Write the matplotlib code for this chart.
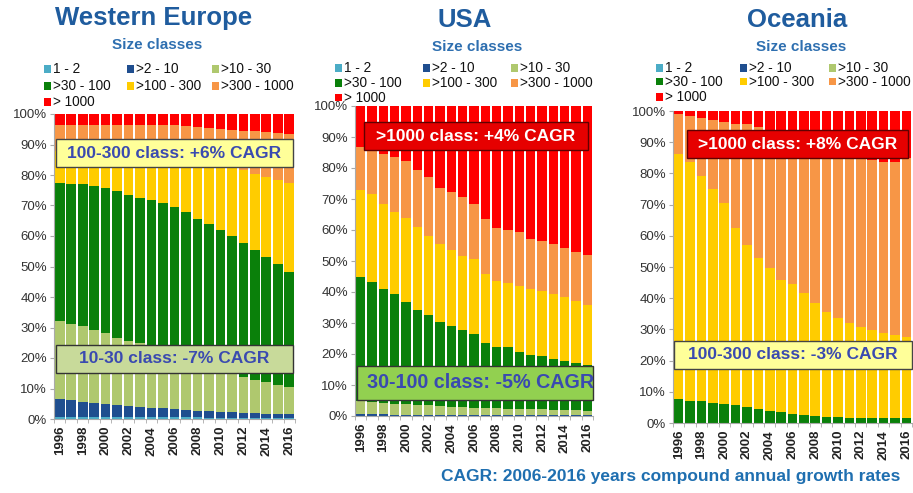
import matplotlib
matplotlib.use("Agg")
import matplotlib.pyplot as plt
from matplotlib.patches import Rectangle
import numpy as np

plt.rcParams['font.family'] = ['Liberation Sans', 'DejaVu Sans']

years = list(range(1996, 2017))
classes = ["1 - 2", ">2 - 10", ">10 - 30", ">30 - 100", ">100 - 300", ">300 - 1000", "> 1000"]
colors = ["#4BACC6", "#1F4E8F", "#AFC86E", "#0A800A", "#FFCC00", "#F79646", "#FF0000"]

# ---- Western Europe shares (%) ----
we_1_2 = [0.8,0.8,0.7,0.7,0.7,0.6,0.6,0.6,0.6,0.5,0.5,0.5,0.5,0.4,0.4,0.4,0.4,0.4,0.3,0.3,0.3]
we_2_10 = [5.7,5.3,5.0,4.5,4.1,3.9,3.5,3.3,3.1,3.0,2.7,2.4,2.2,2.2,2.0,1.9,1.7,1.6,1.4,1.3,1.2]
we_10_30 = [25.5,25.2,24.8,24.0,23.4,22.2,21.6,20.9,20.3,19.7,19.0,18.3,17.3,16.2,14.8,13.2,11.8,10.8,10.4,9.5,8.9]
we_30_100 = [45.4,45.9,46.4,47.2,47.6,48.1,47.8,47.8,47.9,47.7,47.4,46.7,45.7,45.1,44.7,44.4,43.8,42.5,41.0,39.6,37.8]
we_100_300 = [10.6,10.6,10.7,10.9,11.2,11.9,12.9,13.4,13.7,14.3,15.2,16.5,18.3,19.7,21.3,22.8,24.1,25.0,26.1,27.6,29.2]
we_300_1000 = [8.5,8.7,8.9,9.2,9.5,9.8,10.0,10.4,10.8,11.1,11.5,11.7,11.6,11.8,11.9,12.1,12.7,14.0,14.9,15.5,16.2]
we_1000 = [3.5,3.5,3.5,3.5,3.5,3.5,3.6,3.6,3.6,3.7,3.7,3.9,4.4,4.6,4.9,5.2,5.5,5.7,5.9,6.2,6.4]

# ---- USA shares (%) ----
us_1_2 = [0.1]*21
us_2_10 = [0.4,0.4,0.4,0.3,0.3,0.3,0.3,0.3,0.3,0.3,0.2,0.2,0.2,0.2,0.2,0.2,0.2,0.2,0.2,0.2,0.2]
us_10_30 = [4.5,4.1,3.8,3.6,3.4,3.2,3.0,2.8,2.6,2.5,2.4,2.3,2.2,2.1,2.0,1.9,1.8,1.7,1.6,1.5,1.4]
us_30_100 = [39.8,38.7,36.8,35.2,32.9,30.7,29.2,27.2,25.9,24.9,23.7,21.1,19.8,19.7,18.4,17.4,17.2,16.5,15.8,15.2,14.6]
us_100_300 = [28.2,28.2,27.2,26.6,27.2,26.6,25.6,25.0,24.6,23.8,24.1,22.0,21.2,20.9,21.3,21.4,20.9,20.8,20.6,20.2,19.6]
us_300_1000 = [13.7,14.2,16.3,17.9,18.4,18.3,18.8,18.3,18.8,19.1,17.9,17.9,17.2,17.0,17.2,16.1,16.3,16.1,15.8,15.8,16.1]
us_1000 = [13.3,14.3,15.4,16.3,17.7,20.8,23.0,26.3,27.7,29.3,31.6,36.4,39.3,40.0,40.8,42.9,43.5,44.6,45.9,47.0,48.0]

# ---- Oceania shares (%) ----
oc_1_2 = [0.0]*21
oc_2_10 = [0.0]*21
oc_10_30 = [0.0]*21
oc_30_100 = [7.6,7.2,6.9,6.5,6.1,5.7,5.0,4.4,4.0,3.4,2.8,2.7,2.1,2.0,1.9,1.7,1.7,1.7,1.7,1.7,1.7]
oc_100_300 = [78.6,76.6,72.3,68.5,64.5,56.9,52.2,48.5,45.7,42.5,41.7,38.9,36.3,33.7,31.6,30.2,29.2,28.1,27.2,26.5,26.0]
oc_300_1000 = [12.7,14.7,18.6,22.2,25.9,33.3,38.7,41.9,43.8,47.1,47.5,49.4,51.6,53.8,55.0,55.6,56.8,54.4,54.9,55.5,57.1]
oc_1000 = [1.1,1.5,2.2,2.8,3.5,4.1,4.1,5.2,6.5,7.0,8.0,9.0,10.0,10.5,11.5,12.5,12.3,15.8,16.2,16.3,15.2]

panels = [
    dict(title="Western Europe", series=[we_1_2, we_2_10, we_10_30, we_30_100, we_100_300, we_300_1000, we_1000],
         rect=[54/913, 74/493, 241/913, 305/493], tx=154, sx=157, ty=18, sy=45,
         legx=[47, 130, 215], legy=[69, 86, 102],
         notes=[("100-300 class: +6% CAGR", (0.008, 0.826, 0.984, 0.092), "#FFFF99", "#3A4AB0", "#444444", 'center'),
                ("10-30 class: -7% CAGR", (0.008, 0.151, 0.984, 0.092), "#C8DA9A", "#3A4AB0", "#333333", 'center')]),
    dict(title="USA", series=[us_1_2, us_2_10, us_10_30, us_30_100, us_100_300, us_300_1000, us_1000],
         rect=[355/913, 77/493, 238/913, 310/493], tx=465, sx=477, ty=20, sy=47,
         legx=[338, 426, 514], legy=[68, 83, 98],
         notes=[(">1000 class: +4% CAGR", (0.038, 0.858, 0.941, 0.090), "#E60000", "white", "#600000", 'center'),
                ("30-100 class: -5% CAGR", (0.008, 0.052, 0.992, 0.109), "#92D050", "#3A4AB0", "#333333", 'left')]),
    dict(title="Oceania", series=[oc_1_2, oc_2_10, oc_10_30, oc_30_100, oc_100_300, oc_300_1000, oc_1000],
         rect=[673/913, 70/493, 239/913, 312/493], tx=797, sx=801, ty=20, sy=47,
         legx=[659, 743, 832], legy=[68, 82, 97],
         notes=[(">1000 class: +8% CAGR", (0.059, 0.849, 0.924, 0.090), "#E60000", "white", "#600000", 'center'),
                ("100-300 class: -3% CAGR", (0.004, 0.173, 0.996, 0.090), "#FFFF99", "#3A4AB0", "#444444", 'center')]),
]

fig = plt.figure(figsize=(9.13, 4.93), dpi=100)
W, H = 913, 493
x = np.arange(len(years))

for p in panels:
    ax = fig.add_axes(p["rect"])
    bottom = np.zeros(len(years))
    for vals, c in zip(p["series"], colors):
        v = np.array(vals)
        ax.bar(x, v, bottom=bottom, width=0.84, color=c, edgecolor='none')
        bottom += v
    ax.set_xlim(-0.5, len(years) - 0.5)
    ax.set_ylim(0, 100)
    ax.set_yticks(range(0, 101, 10))
    ax.set_yticklabels([f"{v}%" for v in range(0, 101, 10)], fontsize=9.5, color="#333333")
    ax.set_xticks(x[::2])
    ax.set_xticklabels([str(y) for y in years[::2]], rotation=90, fontsize=9.5, fontweight='bold', color="#222222")
    ax.set_xticks(np.arange(-0.5, len(years), 1), minor=True)
    ax.tick_params(axis='x', which='major', length=0, pad=5)
    ax.tick_params(axis='x', which='minor', length=3, color="#AAAAAA")
    ax.tick_params(axis='y', length=3, color="#AAAAAA", pad=2)
    for s in ["top", "right"]:
        ax.spines[s].set_visible(False)
    for s in ["left", "bottom"]:
        ax.spines[s].set_color("#AAAAAA")
        ax.spines[s].set_linewidth(0.8)

    fig.text(p["tx"] / W, 1 - p["ty"] / H, p["title"], ha='center', va='center',
             fontsize=18.5, fontweight='bold', color="#1F5C9E")
    fig.text(p["sx"] / W, 1 - p["sy"] / H, "Size classes", ha='center', va='center',
             fontsize=11, fontweight='bold', color="#2E6FB0")

    # legend laid out in the source's fixed 3-column grid (row-major order)
    for i, (lab, c) in enumerate(zip(classes, colors)):
        col, row = i % 3, i // 3
        mx, my = p["legx"][col], p["legy"][row]
        fig.patches.append(Rectangle(((mx - 3.5) / W, 1 - (my + 3.5) / H), 7 / W, 7 / H,
                                     transform=fig.transFigure, facecolor=c, edgecolor='none'))
        fig.text((mx + 6) / W, 1 - my / H, lab, ha='left', va='center', fontsize=9.8, color="#111111")

    for text, (bx, by, bw, bh), fc, tc, ec, align in p["notes"]:
        ax.add_patch(Rectangle((bx, by), bw, bh, transform=ax.transAxes, facecolor=fc,
                               edgecolor=ec, linewidth=1.0, clip_on=False, zorder=5))
        if align == 'center':
            ax.text(bx + bw / 2, by + bh / 2, text, transform=ax.transAxes, ha='center', va='center',
                    fontsize=12.5, fontweight='bold', color=tc, zorder=6)
        else:
            ax.text(bx + 0.043, by + bh / 2, text, transform=ax.transAxes, ha='left', va='center',
                    fontsize=14.2, fontweight='bold', color=tc, zorder=6, clip_on=True)

fig.text(900 / W, 1 - 477 / H, "CAGR: 2006-2016 years compound annual growth rates",
         ha='right', va='center', fontsize=12.5, fontweight='bold', color="#1F6FB0")

fig.savefig("out.png", dpi=100)
